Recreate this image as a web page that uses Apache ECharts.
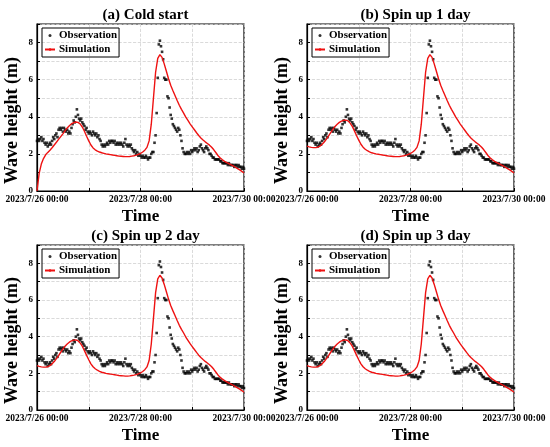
<!DOCTYPE html>
<html>
<head>
<meta charset="utf-8">
<script src="https://cdn.jsdelivr.net/npm/echarts@6/dist/echarts.min.js"></script>
<style>
  html, body { margin: 0; padding: 0; background: #fff; }
  #main { width: 550px; height: 447px; }
</style>
</head>
<body>
<div id="main"></div>
<script>
// panel titles and axis labels
const panelTitles = ['(a) Cold start', '(b) Spin up 1 day', '(c) Spin up 2 day', '(d) Spin up 3 day'];
const xTickLabels = ['2023/7/26 00:00', '', '2023/7/28 00:00', '', '2023/7/30 00:00'];

// observed wave height (m), every 30 min from 2023/7/26 00:00
const obsStep = 0.5;
const observation = [
  2.7, 2.8, 2.7, 2.8, 2.9, 2.7, 2.8, 2.6, 2.5, 2.6, 2.4, 2.5,
  2.6, 2.5, 2.7, 2.9, 2.8, 3.0, 3.1, 2.9, 3.3, 3.4, 3.3, 3.4,
  3.2, 3.4, 3.3, 3.2, 3.3, 3.1, 3.2, 3.1, 3.4, 3.6, 3.8, 3.7,
  4.0, 4.4, 4.1, 3.9, 3.8, 3.9, 3.7, 3.6, 3.5, 3.3, 3.4, 3.2,
  3.1, 3.2, 3.1, 3.0, 3.2, 3.1, 3.0, 3.1, 2.9, 3.0, 2.8, 2.7,
  2.5, 2.4, 2.5, 2.4, 2.5, 2.6, 2.5, 2.7, 2.6, 2.7, 2.7, 2.6,
  2.7, 2.5, 2.6, 2.5, 2.6, 2.5, 2.6, 2.5, 2.4, 2.6, 2.8, 2.5,
  2.4, 2.5, 2.4, 2.5, 2.3, 2.2, 2.1, 2.2, 2.0, 2.1, 1.9, 2.0,
  1.9, 1.8, 1.9, 1.8, 1.8, 1.9, 1.8, 1.7, 1.8, 1.8, 2.0, 2.1,
  2.1, 2.6, 3.0, 4.2, 6.1, 7.9, 8.1, 7.8, 7.5, 7.1, 6.1, 6.0,
  6.0, 5.1, 5.0, 4.5, 4.1, 3.9, 3.6, 3.5, 3.4, 3.3, 3.2, 3.4,
  3.3, 3.0, 2.7, 2.3, 2.1, 2.0, 2.0, 2.1, 2.0, 2.1, 2.0, 2.2,
  2.1, 2.2, 2.3, 2.2, 2.3, 2.1, 2.2, 2.4, 2.5, 2.3, 2.2, 2.1,
  2.3, 2.4, 2.3, 2.2, 2.0, 2.0, 1.9, 1.8, 1.8, 1.7, 1.7, 1.7,
  1.7, 1.7, 1.6, 1.6, 1.5, 1.5, 1.5, 1.5, 1.5, 1.4, 1.5, 1.4,
  1.4, 1.4, 1.4, 1.3, 1.4, 1.4, 1.3, 1.4, 1.3, 1.3, 1.2, 1.3,
  1.2
];

// simulated wave height (m), hourly
const simStep = 1;
// hours 0-29, cold start
const simColdHead = [
  0.0, 0.95, 1.45, 1.75, 1.95, 2.08, 2.2, 2.33, 2.48, 2.63,
  2.78, 2.93, 3.08, 3.24, 3.4, 3.52, 3.62, 3.68, 3.72, 3.7,
  3.62, 3.45, 3.22, 2.95, 2.7, 2.48, 2.32, 2.22, 2.15, 2.1
];
// hours 0-29, spin-up runs (1, 2 and 3 days look the same)
const simSpinHead = [
  2.42, 2.38, 2.35, 2.34, 2.34, 2.36, 2.42, 2.52, 2.64, 2.8,
  2.97, 3.15, 3.32, 3.48, 3.6, 3.7, 3.77, 3.81, 3.82, 3.78,
  3.66, 3.48, 3.24, 2.98, 2.74, 2.52, 2.36, 2.25, 2.17, 2.11
];
// hours 30-96, all runs
const simTail = [
  2.06, 2.03, 2.0, 1.98, 1.96, 1.94, 1.92, 1.9, 1.88, 1.87,
  1.86, 1.85, 1.85, 1.86, 1.88, 1.9, 1.93, 1.97, 2.02, 2.1,
  2.2, 2.35, 2.7, 3.6, 5.0, 6.4, 7.15, 7.35, 7.2, 6.85,
  6.45, 6.05, 5.7, 5.42, 5.15, 4.88, 4.62, 4.4, 4.2, 3.98,
  3.8, 3.62, 3.46, 3.3, 3.14, 2.99, 2.86, 2.75, 2.65, 2.56,
  2.47, 2.36, 2.22, 2.06, 1.9, 1.78, 1.68, 1.6, 1.53, 1.47,
  1.41, 1.35, 1.28, 1.21, 1.14, 1.06, 0.97
];

const simulations = [
  simColdHead.concat(simTail),
  simSpinHead.concat(simTail),
  simSpinHead.concat(simTail),
  simSpinHead.concat(simTail)
];

const FONT = "'Liberation Serif', 'Times New Roman', serif";
const panels = [
  { left: 37, top: 24, height: 167 },
  { left: 307, top: 24, height: 167 },
  { left: 37, top: 245, height: 165 },
  { left: 307, top: 245, height: 165 }
];
const plotWidth = 207;

var myChart = echarts.init(document.getElementById('main'));

let grid = [], xAxis = [], yAxis = [], title = [], legend = [], series = [];

panels.forEach(function (p, i) {
  grid.push({
    left: p.left, top: p.top, width: plotWidth, height: p.height,
    show: true, borderColor: '#000', borderWidth: 1.2, backgroundColor: 'transparent'
  });
  title.push({
    text: panelTitles[i],
    left: p.left + plotWidth / 2,
    top: p.top - 21,
    textAlign: 'center',
    textStyle: { fontFamily: FONT, fontWeight: 'bold', fontSize: 15, color: '#000' }
  });
  legend.push({
    orient: 'vertical',
    left: p.left + 5,
    top: p.top + 4,
    padding: [2, 2, 2, 2],
    itemGap: 3,
    itemWidth: 10,
    itemHeight: 3,
    borderColor: '#000',
    borderWidth: 1,
    data: [{ name: 'Observation', icon: 'circle' }, 'Simulation'],
    textStyle: { fontFamily: FONT, fontWeight: 'bold', fontSize: 11, color: '#000', padding: [0, 0, 0, -1] }
  });
  xAxis.push({
    type: 'value',
    gridIndex: i,
    min: 0,
    max: 96,
    interval: 24,
    name: 'Time',
    nameLocation: 'middle',
    nameGap: 17,
    nameTextStyle: { fontFamily: FONT, fontWeight: 'bold', fontSize: 17, color: '#000' },
    axisLine: { lineStyle: { color: '#000', width: 1.2 } },
    axisTick: { inside: true, length: 3, lineStyle: { color: '#000' } },
    axisLabel: {
      formatter: function (v) { return xTickLabels[Math.round(v / 24)]; },
      fontFamily: FONT, fontWeight: 'bold', fontSize: 9.5, color: '#000', margin: 4
    },
    splitLine: { show: true, lineStyle: { color: '#d0d0d0', type: 'dashed', width: 0.8 } }
  });
  yAxis.push({
    type: 'value',
    gridIndex: i,
    min: 0,
    max: 9,
    interval: 1,
    name: 'Wave height (m)',
    nameLocation: 'middle',
    nameGap: 16,
    nameTextStyle: { fontFamily: FONT, fontWeight: 'bold', fontSize: 18, color: '#000', padding: [0, 26, 0, 0] },
    axisLine: { show: true, lineStyle: { color: '#000', width: 1.2 } },
    axisTick: { show: true, inside: true, length: 3, lineStyle: { color: '#000' } },
    axisLabel: {
      formatter: function (v) { return v % 2 === 0 ? v : ''; },
      fontFamily: FONT, fontWeight: 'bold', fontSize: 9, color: '#000', margin: 4
    },
    splitLine: { show: true, lineStyle: { color: '#d0d0d0', type: 'dashed', width: 0.8 } }
  });
  series.push({
    name: 'Observation',
    type: 'scatter',
    xAxisIndex: i,
    yAxisIndex: i,
    symbol: 'rect',
    symbolSize: 2.6,
    itemStyle: { color: '#000' },
    data: observation.map(function (v, k) { return [k * obsStep, v]; })
  });
  series.push({
    name: 'Simulation',
    type: 'line',
    xAxisIndex: i,
    yAxisIndex: i,
    symbol: 'none',
    showSymbol: false,
    itemStyle: { color: '#ee1111' },
    lineStyle: { color: '#ee1111', width: 1.4 },
    data: simulations[i].map(function (v, k) { return [k * simStep, v]; })
  });
});

myChart.setOption({
  animation: false,
  backgroundColor: '#fff',
  title: title,
  legend: legend,
  grid: grid,
  xAxis: xAxis,
  yAxis: yAxis,
  series: series
});
</script>
</body>
</html>
